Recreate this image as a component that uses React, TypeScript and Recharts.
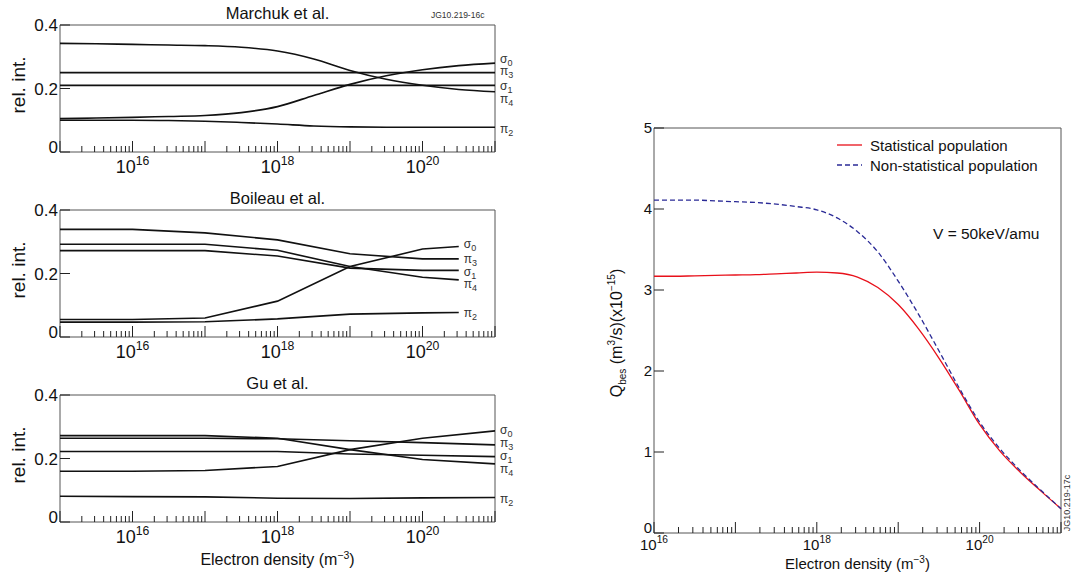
import { Legend, Line, LineChart, ReferenceArea, ReferenceDot, XAxis, YAxis } from "recharts";

const FONT = '"Liberation Sans", Arial, Helvetica, sans-serif';
const FRAME = "#555";

// x values are log10 of the electron density (m^-3)
const marchukExp = [15, 15.5, 16, 16.5, 17, 17.5, 18, 18.5, 19, 19.5, 20, 20.5, 21];
const marchukSigma0 = [0.105, 0.107, 0.109, 0.112, 0.115, 0.124, 0.143, 0.178, 0.213, 0.24, 0.259, 0.272, 0.28];
const marchukPi3 = [0.25, 0.25, 0.25, 0.25, 0.25, 0.25, 0.25, 0.25, 0.25, 0.25, 0.25, 0.25, 0.25];
const marchukSigma1 = [0.21, 0.21, 0.21, 0.21, 0.21, 0.21, 0.21, 0.21, 0.21, 0.21, 0.21, 0.21, 0.21];
const marchukPi4 = [0.342, 0.341, 0.339, 0.337, 0.335, 0.33, 0.318, 0.293, 0.257, 0.229, 0.21, 0.197, 0.19];
const marchukPi2 = [0.1, 0.1, 0.1, 0.099, 0.097, 0.093, 0.088, 0.082, 0.079, 0.078, 0.078, 0.078, 0.078];

const boileauExp = [15, 16, 17, 18, 19, 20, 20.5];
const boileauSigma0 = [0.055, 0.055, 0.06, 0.113, 0.222, 0.277, 0.285];
const boileauPi3 = [0.339, 0.339, 0.328, 0.306, 0.262, 0.246, 0.246];
const boileauSigma1 = [0.272, 0.272, 0.272, 0.255, 0.217, 0.21, 0.21];
const boileauPi4 = [0.292, 0.292, 0.292, 0.273, 0.222, 0.188, 0.18];
const boileauPi2 = [0.047, 0.047, 0.048, 0.057, 0.072, 0.076, 0.077];

const guExp = [15, 16, 17, 18, 19, 20, 21];
const guSigma0 = [0.16, 0.16, 0.162, 0.175, 0.228, 0.264, 0.287];
const guPi3 = [0.264, 0.264, 0.264, 0.262, 0.256, 0.25, 0.243];
const guSigma1 = [0.222, 0.222, 0.222, 0.222, 0.214, 0.21, 0.206];
const guPi4 = [0.272, 0.272, 0.272, 0.264, 0.228, 0.197, 0.183];
const guPi2 = [0.081, 0.08, 0.079, 0.075, 0.074, 0.076, 0.077];

// line tags on the right of each panel: symbol, subscript
const tagSymbols = ["σ", "π", "σ", "π", "π"];
const tagSubs = ["0", "3", "1", "4", "2"];
const marchukTagY = [0.292, 0.253, 0.207, 0.167, 0.07];
const boileauTagY = [0.292, 0.243, 0.205, 0.166, 0.074];
const guTagY = [0.29, 0.248, 0.207, 0.167, 0.072];

const qbesExp = [16, 16.25, 16.5, 16.75, 17, 17.25, 17.5, 17.75, 18, 18.25, 18.5, 18.75, 19, 19.25, 19.5, 19.75, 20, 20.25, 20.5, 20.75, 21];
const qbesStatistical = [3.17, 3.17, 3.175, 3.18, 3.185, 3.19, 3.2, 3.21, 3.22, 3.21, 3.16, 3.03, 2.82, 2.52, 2.16, 1.76, 1.34, 1.01, 0.75, 0.52, 0.3];
const qbesNonStatistical = [4.11, 4.11, 4.11, 4.1, 4.09, 4.08, 4.06, 4.03, 3.99, 3.89, 3.72, 3.47, 3.11, 2.7, 2.25, 1.79, 1.37, 1.04, 0.77, 0.53, 0.3];

const leftMajor = [15, 16, 17, 18, 19, 20, 21];
const leftLabeled = [16, 18, 20];
const rightMajor = [16, 17, 18, 19, 20, 21];
const rightLabeled = [16, 18, 20];
const relTicks = [0, 0.2, 0.4];
const qbesTicks = [0, 1, 2, 3, 4, 5];

const seriesKeys = ["sigma0", "pi3", "sigma1", "pi4", "pi2"];

function logTicks(major: number[]) {
  const out: number[] = [];
  major.forEach((m, i) => {
    out.push(m);
    if (i < major.length - 1) {
      for (let k = 2; k <= 9; k++) out.push(m + Math.log10(k));
    }
  });
  return out;
}

function buildRows(exp: number[], cols: number[][]) {
  return exp.map((x, i) => {
    const row: Record<string, number> = { x };
    seriesKeys.forEach((k, j) => (row[k] = cols[j][i]));
    return row;
  });
}

function LogTick(props: any) {
  const { x, y, payload, labeled, fontSize, majorLen, minorLen, labelGap } = props;
  const v = payload.value;
  const major = Math.abs(v - Math.round(v)) < 1e-6;
  const show = major && labeled.includes(Math.round(v));
  return (
    <g>
      <line x1={x} x2={x} y1={y} y2={y - (major ? majorLen : minorLen)} stroke="#222" strokeWidth={1} />
      {show && (
        <text x={x} y={y + labelGap} textAnchor="middle" fontSize={fontSize} fill="#111" fontFamily={FONT}>
          10
          <tspan dy={-fontSize * 0.45} fontSize={fontSize * 0.68}>
            {Math.round(v)}
          </tspan>
        </text>
      )}
    </g>
  );
}

function LinTick(props: any) {
  const { x, y, payload, fontSize, digits } = props;
  // the zero label sits a little above the axis, as in the original
  const lift = payload.value === 0 ? -5 : 0;
  return (
    <g>
      <line x1={x} x2={x + 10} y1={y} y2={y} stroke="#222" strokeWidth={1} />
      <text x={x - 2} y={y + lift} dy="0.36em" textAnchor="end" fontSize={fontSize} fill="#111" fontFamily={FONT}>
        {payload.value === 0 ? "0" : payload.value.toFixed(digits)}
      </text>
    </g>
  );
}

function TagLabel(props: any) {
  const { viewBox, sym, sub } = props;
  return (
    <text x={viewBox.x + 5} y={viewBox.y} dy="0.3em" fontSize={12} fill="#333" fontFamily={FONT}>
      {sym}
      <tspan dy={3} fontSize={9}>
        {sub}
      </tspan>
    </text>
  );
}

interface PanelProps {
  top: number;
  title: string;
  exp: number[];
  cols: number[][];
  tagY: number[];
  tagX: number;
  smooth: boolean;
}

function RelPanel({ top, title, exp, cols, tagY, tagX, smooth }: PanelProps) {
  const rows = buildRows(exp, cols);
  return (
    <div style={{ position: "absolute", left: 0, top, width: 560, height: 180 }}>
      <LineChart width={560} height={180} data={rows} margin={{ top: 25, right: 65, left: 0, bottom: 0 }}>
        <XAxis
          dataKey="x"
          type="number"
          domain={[15, 21]}
          ticks={logTicks(leftMajor)}
          interval={0}
          height={28}
          axisLine={false}
          tickLine={false}
          tickSize={0}
          tickMargin={0}
          tick={<LogTick labeled={leftLabeled} fontSize={18} majorLen={11} minorLen={6} labelGap={21} />}
        />
        <YAxis
          type="number"
          domain={[0, 0.4]}
          ticks={relTicks}
          interval={0}
          width={60}
          axisLine={false}
          tickLine={false}
          tickSize={0}
          tickMargin={0}
          tick={<LinTick fontSize={17} digits={1} />}
        />
        <ReferenceArea x1={15} x2={21} y1={0} y2={0.4} fill="none" stroke={FRAME} strokeWidth={1} />
        {seriesKeys.map((k) => (
          <Line
            key={k}
            dataKey={k}
            type={smooth ? "monotone" : "linear"}
            stroke="#111"
            strokeWidth={1.6}
            dot={false}
            isAnimationActive={false}
          />
        ))}
        {seriesKeys.map((k, i) => (
          <ReferenceDot
            key={"t" + k}
            x={tagX}
            y={tagY[i]}
            r={0}
            fill="none"
            stroke="none"
            ifOverflow="visible"
            label={<TagLabel sym={tagSymbols[i]} sub={tagSubs[i]} />}
          />
        ))}
      </LineChart>
      <div
        style={{
          position: "absolute",
          left: 60,
          width: 435,
          top: 4,
          textAlign: "center",
          fontFamily: FONT,
          fontSize: 16.5,
          color: "#111",
        }}
      >
        {title}
      </div>
      <div
        style={{
          position: "absolute",
          left: 19,
          top: 85,
          transform: "translate(-50%, -50%) rotate(-90deg)",
          whiteSpace: "nowrap",
          fontFamily: FONT,
          fontSize: 19,
          color: "#111",
        }}
      >
        rel. int.
      </div>
    </div>
  );
}

function QLegend() {
  const items = [
    { name: "Statistical population", color: "#e8101a", dash: undefined },
    { name: "Non-statistical population", color: "#2a2a96", dash: "5 3" },
  ];
  return (
    <div style={{ fontFamily: FONT, fontSize: 15, color: "#111" }}>
      {items.map((it) => (
        <div key={it.name} style={{ display: "flex", alignItems: "center", height: 20 }}>
          <svg width={26} height={10} style={{ marginRight: 7 }}>
            <line x1={0} x2={25} y1={5} y2={5} stroke={it.color} strokeWidth={1.3} strokeDasharray={it.dash} />
          </svg>
          <span>{it.name}</span>
        </div>
      ))}
    </div>
  );
}

function QbesChart() {
  const rows = qbesExp.map((x, i) => ({ x, stat: qbesStatistical[i], nonstat: qbesNonStatistical[i] }));
  return (
    <div style={{ position: "absolute", left: 590, top: 100, width: 483, height: 477 }}>
      <LineChart width={483} height={477} data={rows} margin={{ top: 28, right: 12, left: 0, bottom: 0 }}>
        <XAxis
          dataKey="x"
          type="number"
          domain={[16, 21]}
          ticks={logTicks(rightMajor)}
          interval={0}
          height={44}
          axisLine={false}
          tickLine={false}
          tickSize={0}
          tickMargin={0}
          tick={<LogTick labeled={rightLabeled} fontSize={15} majorLen={11} minorLen={6} labelGap={17} />}
        />
        <YAxis
          type="number"
          domain={[0, 5]}
          ticks={qbesTicks}
          interval={0}
          width={64}
          axisLine={false}
          tickLine={false}
          tickSize={0}
          tickMargin={0}
          tick={<LinTick fontSize={15} digits={0} />}
        />
        <ReferenceArea x1={16} x2={21} y1={0} y2={5} fill="none" stroke={FRAME} strokeWidth={1} />
        <Line dataKey="stat" name="Statistical population" type="monotone" stroke="#e8101a" strokeWidth={1.3} dot={false} isAnimationActive={false} />
        <Line dataKey="nonstat" name="Non-statistical population" type="monotone" stroke="#2a2a96" strokeWidth={1.3} strokeDasharray="5 3" dot={false} isAnimationActive={false} />
        <Legend
          layout="vertical"
          align="center"
          verticalAlign="middle"
          content={<QLegend />}
          wrapperStyle={{ left: 247, top: 35, width: "auto" }}
        />
      </LineChart>
      <div style={{ position: "absolute", left: 343, top: 125, fontFamily: FONT, fontSize: 15.5, color: "#111", whiteSpace: "nowrap" }}>
        V = 50keV/amu
      </div>
      <div
        style={{
          position: "absolute",
          left: 27,
          top: 233,
          transform: "translate(-50%, -50%) rotate(-90deg)",
          whiteSpace: "nowrap",
          fontFamily: FONT,
          fontSize: 16,
          color: "#111",
        }}
      >
        Q<sub style={{ fontSize: 10 }}>bes</sub> (m<sup style={{ fontSize: 10 }}>3</sup>/s)(x10<sup style={{ fontSize: 10 }}>−15</sup>)
      </div>
      <div
        style={{
          position: "absolute",
          left: 64,
          width: 407,
          top: 455,
          textAlign: "center",
          fontFamily: FONT,
          fontSize: 15,
          lineHeight: "17px",
          color: "#111",
          whiteSpace: "nowrap",
        }}
      >
        Electron density (m<sup style={{ fontSize: 10, lineHeight: 0 }}>−3</sup>)
      </div>
      <div
        style={{
          position: "absolute",
          left: 477,
          top: 403,
          transform: "translate(-50%, -50%) rotate(-90deg)",
          whiteSpace: "nowrap",
          fontFamily: FONT,
          fontSize: 9,
          color: "#333",
        }}
      >
        JG10.219-17c
      </div>
    </div>
  );
}

export default function App() {
  return (
    <div style={{ position: "absolute", left: 0, top: 0, width: 1073, height: 577, background: "#fff", overflow: "hidden" }}>
      <RelPanel
        top={0}
        title="Marchuk et al."
        exp={marchukExp}
        cols={[marchukSigma0, marchukPi3, marchukSigma1, marchukPi4, marchukPi2]}
        tagY={marchukTagY}
        tagX={21}
        smooth
      />
      <RelPanel
        top={185}
        title="Boileau et al."
        exp={boileauExp}
        cols={[boileauSigma0, boileauPi3, boileauSigma1, boileauPi4, boileauPi2]}
        tagY={boileauTagY}
        tagX={20.5}
        smooth={false}
      />
      <RelPanel
        top={370}
        title="Gu et al."
        exp={guExp}
        cols={[guSigma0, guPi3, guSigma1, guPi4, guPi2]}
        tagY={guTagY}
        tagX={21}
        smooth={false}
      />
      <div style={{ position: "absolute", left: 431, top: 10, fontFamily: FONT, fontSize: 8.5, color: "#333" }}>
        JG10.219-16c
      </div>
      <div
        style={{
          position: "absolute",
          left: 60,
          width: 435,
          top: 550,
          textAlign: "center",
          fontFamily: FONT,
          fontSize: 16,
          lineHeight: "19px",
          color: "#111",
          whiteSpace: "nowrap",
        }}
      >
        Electron density (m<sup style={{ fontSize: 10.5, lineHeight: 0 }}>−3</sup>)
      </div>
      <QbesChart />
    </div>
  );
}
